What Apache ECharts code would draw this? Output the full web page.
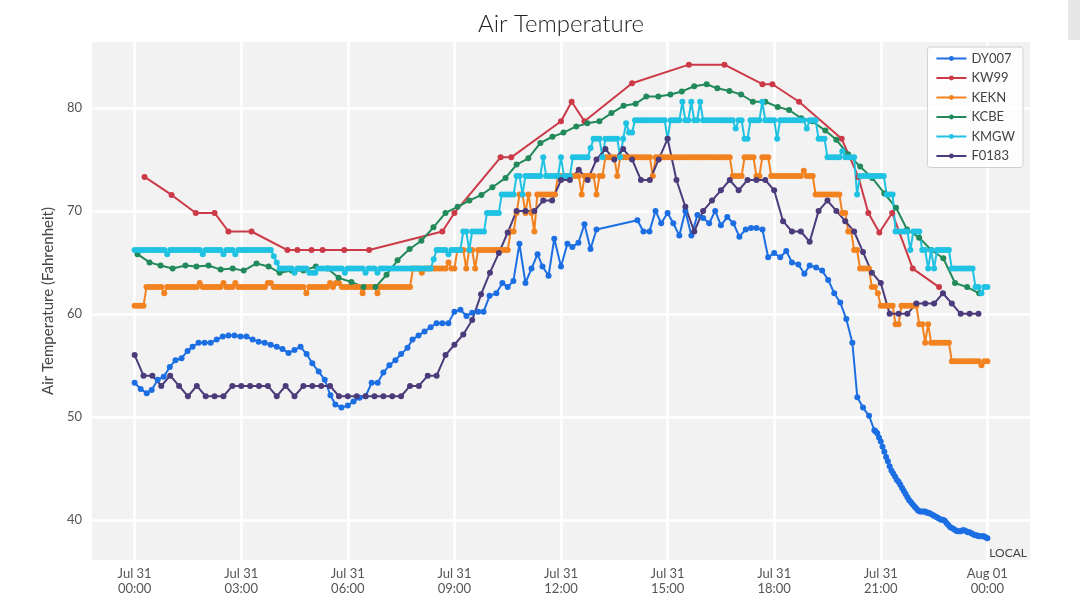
<!DOCTYPE html>
<html>
<head>
<meta charset="utf-8">
<title>Air Temperature</title>
<script src="https://cdn.jsdelivr.net/npm/echarts@6/dist/echarts.min.js"></script>
<style>
html, body { margin: 0; padding: 0; background: #fff; }
#chart { width: 1080px; height: 608px; }
</style>
</head>
<body>
<div id="chart"></div>
<script>
// stations, in legend order
const stations = ['DY007', 'KW99', 'KEKN', 'KCBE', 'KMGW', 'F0183']
const colors = ['#1c6ee3', '#cc3a48', '#f2821f', '#21895a', '#1fc2e2', '#4b3b7a']

// x axis is hours since Jul 31 00:00
const xTicks = [0, 3, 6, 9, 12, 15, 18, 21, 24]
const xTickLabels = ['Jul 31\n00:00', 'Jul 31\n03:00', 'Jul 31\n06:00', 'Jul 31\n09:00',
    'Jul 31\n12:00', 'Jul 31\n15:00', 'Jul 31\n18:00', 'Jul 31\n21:00', 'Aug 01\n00:00']
const yTicks = [40, 50, 60, 70, 80]

// DY007: [hour, F]
const dy007 = [
    [0.00, 53.3], [0.17, 52.7], [0.34, 52.3], [0.48, 52.6], [0.65, 53.6], [0.82, 53.9],
    [0.99, 54.85], [1.15, 55.5], [1.32, 55.7], [1.49, 56.4], [1.63, 56.8], [1.80, 57.2],
    [1.97, 57.2], [2.14, 57.2], [2.31, 57.5], [2.48, 57.8], [2.64, 57.9], [2.81, 57.9],
    [2.98, 57.8], [3.15, 57.8], [3.32, 57.5], [3.49, 57.3], [3.66, 57.2], [3.83, 57.0],
    [4.00, 56.8], [4.16, 56.6], [4.33, 56.2], [4.50, 56.5], [4.67, 56.8], [4.84, 56.1],
    [5.00, 55.2], [5.18, 54.4], [5.35, 53.6], [5.51, 52.1], [5.65, 51.2], [5.82, 50.9],
    [6.00, 51.1], [6.16, 51.5], [6.33, 51.85], [6.50, 52.0], [6.67, 53.3], [6.84, 53.3],
    [7.00, 54.3], [7.17, 55.0], [7.34, 55.5], [7.50, 56.1], [7.68, 56.7], [7.82, 57.5],
    [7.99, 57.9], [8.16, 58.3], [8.33, 58.7], [8.50, 59.1], [8.66, 59.1], [8.83, 59.1],
    [9.00, 60.2], [9.17, 60.4], [9.34, 59.8], [9.50, 60.1], [9.67, 60.2], [9.82, 60.2],
    [9.99, 61.75], [10.18, 62.0], [10.35, 63.0], [10.50, 62.6], [10.66, 63.2], [10.83, 66.8],
    [11.00, 63.0], [11.17, 64.4], [11.34, 65.8], [11.48, 64.6], [11.65, 63.7], [11.81, 67.3],
    [12.00, 64.6], [12.18, 66.8], [12.32, 66.5], [12.49, 66.9], [12.66, 68.7], [12.83, 66.3],
    [13.00, 68.2], [14.15, 69.1], [14.32, 68.0], [14.49, 68.0], [14.66, 70.0], [14.82, 68.8],
    [15.00, 69.8], [15.16, 68.8], [15.33, 67.6], [15.50, 70.0], [15.67, 67.6], [15.84, 69.6],
    [16.00, 69.3], [16.17, 68.8], [16.34, 70.0], [16.50, 68.6], [16.68, 69.4], [16.85, 68.8],
    [17.02, 67.5], [17.20, 68.2], [17.35, 68.35], [17.50, 68.35], [17.67, 68.2], [17.83, 65.5],
    [18.00, 65.9], [18.17, 65.5], [18.34, 66.1], [18.50, 65.0], [18.68, 64.8], [18.85, 63.9],
    [19.00, 64.7], [19.18, 64.5], [19.35, 64.2], [19.52, 63.3], [19.69, 62.0], [19.86, 61.1],
    [20.03, 59.5], [20.20, 57.2], [20.34, 51.9], [20.50, 50.9], [20.67, 50.1], [20.82, 48.7],
    [20.85, 48.6], [20.90, 48.4], [20.95, 48.0], [21.00, 47.6], [21.05, 47.1], [21.10, 46.6],
    [21.15, 46.1], [21.20, 45.7], [21.25, 45.2], [21.30, 44.8], [21.35, 44.5], [21.40, 44.2],
    [21.45, 43.9], [21.50, 43.7], [21.55, 43.4], [21.60, 43.1], [21.65, 42.8], [21.70, 42.5],
    [21.75, 42.2], [21.80, 41.9], [21.85, 41.7], [21.90, 41.5], [21.95, 41.3], [22.00, 41.1],
    [22.05, 40.9], [22.10, 40.8], [22.15, 40.8], [22.20, 40.8], [22.25, 40.8], [22.30, 40.7],
    [22.35, 40.7], [22.40, 40.6], [22.45, 40.5], [22.50, 40.4], [22.55, 40.3], [22.60, 40.2],
    [22.65, 40.1], [22.70, 40.0], [22.75, 40.0], [22.80, 39.9], [22.85, 39.7], [22.90, 39.5],
    [22.95, 39.3], [23.00, 39.2], [23.05, 39.1], [23.10, 39.0], [23.15, 38.9], [23.20, 38.9],
    [23.25, 38.9], [23.30, 39.0], [23.35, 39.0], [23.40, 38.9], [23.45, 38.8], [23.50, 38.8],
    [23.55, 38.7], [23.60, 38.6], [23.65, 38.5], [23.70, 38.5], [23.75, 38.4], [23.80, 38.4],
    [23.85, 38.4], [23.90, 38.4], [23.95, 38.3], [24.00, 38.2]
]

// KW99: [hour, F]
const kw99 = [
    [0.28, 73.3], [1.04, 71.55], [1.72, 69.8], [2.25, 69.8], [2.64, 68.0], [3.29, 68.0],
    [4.30, 66.2], [4.58, 66.2], [4.98, 66.2], [5.29, 66.2], [5.90, 66.2], [6.60, 66.2],
    [8.66, 68.0], [9.00, 69.8], [10.30, 75.2], [10.60, 75.2], [12.00, 78.7], [12.30, 80.6],
    [12.66, 78.7], [14.00, 82.4], [15.60, 84.2], [16.60, 84.2], [17.67, 82.3], [17.95, 82.3],
    [18.70, 80.6], [19.90, 77.0], [20.37, 73.3], [20.65, 69.8], [20.96, 67.9], [21.32, 69.8],
    [21.90, 64.4], [22.64, 62.6]
]

// KCBE: [hour, F]
const kcbe = [
    [0.08, 65.8], [0.42, 65.0], [0.73, 64.7], [1.07, 64.4], [1.43, 64.7], [1.74, 64.6],
    [2.08, 64.7], [2.42, 64.3], [2.76, 64.4], [3.07, 64.2], [3.43, 64.9], [3.77, 64.6],
    [4.08, 64.0], [4.42, 64.2], [4.75, 64.2], [5.10, 64.6], [5.43, 64.4], [5.74, 63.5],
    [6.10, 63.1], [6.44, 62.6], [6.78, 62.6], [7.09, 63.8], [7.40, 65.2], [7.74, 66.3],
    [8.07, 67.1], [8.41, 68.4], [8.75, 69.8], [9.09, 70.4], [9.42, 71.0], [9.76, 71.55],
    [10.07, 72.3], [10.44, 73.2], [10.75, 74.5], [11.08, 75.1], [11.42, 76.6], [11.76, 77.2],
    [12.07, 77.6], [12.43, 78.2], [12.74, 78.5], [13.08, 78.7], [13.42, 79.5], [13.76, 80.2],
    [14.10, 80.4], [14.40, 81.1], [14.74, 81.1], [15.08, 81.3], [15.40, 81.6], [15.75, 82.1],
    [16.10, 82.3], [16.40, 81.9], [16.74, 81.65], [17.07, 81.3], [17.40, 80.6], [17.75, 80.6],
    [18.10, 80.1], [18.42, 79.8], [18.76, 79.0], [19.07, 78.7], [19.44, 77.8], [19.75, 76.9],
    [20.08, 75.5], [20.42, 74.3], [20.76, 73.2], [21.10, 71.7], [21.43, 70.3], [21.74, 68.2],
    [22.08, 67.4], [22.42, 66.2], [22.76, 65.4], [23.09, 63.0], [23.43, 62.6], [23.77, 62.0]
]

// KEKN: five-minute readings from 00:00, one row per hour
const kekn5min = [
    60.8, 60.8, 60.8, 60.8, 62.6, 62.6, 62.6, 62.6, 62.6, 62.6, 62.0, 62.6,
    62.6, 62.6, 62.6, 62.6, 62.6, 62.6, 62.6, 62.6, 62.6, 62.6, 63.0, 62.6,
    62.6, 62.6, 62.6, 62.6, 62.6, 62.6, 63.0, 62.6, 62.6, 62.6, 63.0, 62.6,
    62.6, 62.6, 62.6, 62.6, 62.6, 62.6, 62.6, 62.6, 62.6, 63.0, 63.0, 62.6,
    62.6, 62.6, 62.6, 62.6, 62.6, 62.6, 62.6, 62.6, 62.6, 62.6, 62.0, 62.6,
    62.6, 62.6, 62.6, 62.6, 62.6, 62.6, 63.0, 62.6, 63.0, 63.0, 62.6, 62.6,
    62.6, 62.6, 62.6, 62.6, 62.6, 62.0, 62.6, 62.6, 62.6, 62.6, 62.0, 62.6,
    62.6, 62.6, 62.6, 62.6, 62.6, 62.6, 62.6, 62.6, 62.6, 62.6, 64.4, 64.4,
    64.4, 64.0, 64.4, 64.4, 64.4, 64.4, 64.4, 64.4, 64.4, 64.4, 65.0, 64.4,
    64.4, 66.2, 66.2, 66.2, 64.4, 66.2, 66.2, 64.4, 66.2, 66.2, 66.2, 66.2,
    66.2, 66.2, 66.2, 66.2, 66.2, 66.2, 66.2, 68.0, 68.0, 69.8, 71.6, 71.6,
    69.8, 71.6, 69.8, 68.0, 71.6, 71.6, 71.6, 71.6, 71.6, 71.6, 71.6, 73.4,
    73.4, 73.4, 73.4, 73.4, 73.4, 73.4, 73.4, 71.6, 73.4, 73.4, 73.4, 73.4,
    71.6, 73.4, 73.4, 75.2, 75.2, 75.2, 75.2, 73.4, 75.2, 75.2, 75.2, 75.2,
    75.2, 75.2, 75.2, 75.2, 75.2, 75.2, 75.2, 73.4, 75.2, 75.2, 75.2, 75.2,
    75.2, 75.2, 75.2, 75.2, 75.2, 75.2, 75.2, 75.2, 75.2, 75.2, 75.2, 75.2,
    75.2, 75.2, 75.2, 75.2, 75.2, 75.2, 75.2, 75.2, 75.2, 75.2, 73.4, 73.4,
    73.4, 73.4, 75.2, 75.2, 75.2, 75.2, 73.4, 73.4, 75.2, 75.2, 75.2, 73.4,
    73.4, 73.4, 73.4, 73.4, 73.4, 73.4, 73.4, 73.4, 73.4, 73.4, 73.9, 73.4,
    73.4, 73.4, 71.6, 71.6, 71.6, 71.6, 71.6, 71.6, 71.6, 71.6, 71.6, 69.8,
    69.8, 68.0, 68.0, 66.2, 66.2, 64.4, 64.4, 64.4, 64.4, 62.6, 62.6, 62.0,
    60.8, 60.8, 60.8, 60.8, 60.8, 59.0, 59.0, 60.8, 60.8, 60.8, 60.8, 60.8,
    60.8, 59.0, 59.0, 57.2, 59.0, 57.2, 57.2, 57.2, 57.2, 57.2, 57.2, 57.2,
    55.4, 55.4, 55.4, 55.4, 55.4, 55.4, 55.4, 55.4, 55.4, 55.4, 55.0, 55.4,
    55.4
]

// KMGW: five-minute readings from 00:00, one row per hour
const kmgw5min = [
    66.2, 66.2, 66.2, 66.2, 66.2, 66.2, 66.2, 66.2, 66.2, 66.2, 66.2, 65.8,
    66.2, 66.2, 66.2, 66.2, 66.2, 66.2, 66.2, 66.2, 66.2, 66.2, 66.2, 65.8,
    66.2, 66.2, 66.2, 66.2, 66.2, 66.2, 65.8, 66.2, 66.2, 66.2, 65.8, 66.2,
    66.2, 66.2, 66.2, 66.2, 66.2, 66.2, 66.2, 66.2, 66.2, 66.2, 66.2, 65.6,
    65.0, 64.4, 64.4, 64.4, 64.4, 64.4, 64.0, 64.4, 64.4, 64.4, 64.4, 64.0,
    64.0, 64.0, 64.4, 64.4, 64.4, 64.4, 64.4, 64.4, 64.4, 64.4, 64.4, 64.0,
    64.4, 64.4, 64.4, 64.4, 64.4, 64.4, 64.0, 64.4, 64.4, 64.4, 64.0, 64.4,
    64.4, 64.4, 64.4, 64.4, 64.4, 64.4, 64.4, 64.4, 64.4, 64.4, 64.4, 64.4,
    64.4, 64.4, 64.4, 64.4, 64.4, 65.3, 66.2, 66.2, 66.2, 66.2, 65.8, 66.2,
    66.2, 66.2, 66.2, 68.0, 68.0, 66.2, 68.0, 68.0, 68.0, 68.0, 68.0, 69.8,
    69.8, 69.8, 69.8, 69.8, 71.6, 71.6, 71.6, 71.6, 71.6, 73.4, 73.4, 71.6,
    73.4, 73.4, 73.4, 73.4, 73.4, 73.4, 75.2, 73.4, 73.4, 73.4, 73.4, 73.4,
    75.2, 73.4, 73.4, 73.4, 75.2, 75.2, 75.2, 75.2, 75.2, 75.2, 76.1, 77.0,
    77.0, 77.0, 75.2, 77.0, 77.0, 77.0, 77.0, 77.0, 75.2, 77.0, 78.5, 77.6,
    77.6, 78.8, 78.8, 78.8, 78.8, 78.8, 78.8, 78.8, 78.8, 78.8, 78.8, 78.8,
    77.0, 78.8, 78.8, 78.8, 78.8, 80.6, 78.8, 78.8, 80.6, 78.8, 78.8, 80.6,
    78.8, 78.8, 78.8, 78.8, 78.8, 78.8, 78.8, 78.8, 78.8, 78.8, 78.8, 78.0,
    78.8, 78.8, 77.0, 77.0, 78.8, 78.8, 78.8, 78.8, 80.6, 78.8, 78.8, 78.8,
    78.8, 77.0, 78.8, 78.8, 78.8, 78.8, 78.8, 78.8, 78.8, 78.8, 78.8, 78.0,
    78.8, 78.8, 78.8, 77.0, 77.0, 77.0, 75.2, 75.2, 75.2, 75.2, 75.2, 75.8,
    75.2, 75.2, 75.2, 75.2, 71.6, 73.4, 73.4, 73.4, 73.4, 73.4, 73.4, 73.4,
    73.4, 73.4, 71.6, 71.6, 71.6, 68.0, 68.0, 68.0, 68.0, 68.0, 66.2, 68.0,
    68.0, 68.0, 66.2, 66.2, 64.4, 66.2, 64.4, 66.2, 66.2, 66.2, 66.2, 66.2,
    64.4, 64.4, 64.4, 64.4, 64.4, 64.4, 64.4, 64.4, 62.6, 62.6, 62.0, 62.6,
    62.6
]

// F0183: quarter-hour readings from 00:00, one row per hour
const f0183q = [
    56.0, 54.0, 54.0, 53.0,
    54.0, 53.0, 52.0, 53.0,
    52.0, 52.0, 52.0, 53.0,
    53.0, 53.0, 53.0, 53.0,
    52.0, 53.0, 52.0, 53.0,
    53.0, 53.0, 53.0, 52.0,
    52.0, 52.0, 52.0, 52.0,
    52.0, 52.0, 52.0, 53.0,
    53.0, 54.0, 54.0, 56.0,
    57.0, 58.0, 59.4, 61.9,
    64.0, 65.9, 67.9, 70.0,
    70.0, 70.0, 71.0, 71.0,
    73.0, 73.0, 74.0, 73.0,
    75.0, 76.0, 75.0, 76.0,
    75.0, 73.0, 73.0, 75.0,
    77.0, 73.0, 70.4, 68.0,
    70.0, 71.0, 72.0, 73.0,
    72.0, 73.0, 73.0, 73.0,
    72.0, 69.0, 68.0, 68.0,
    67.0, 70.0, 71.0, 70.0,
    69.0, 68.0, 66.0, 64.0,
    63.0, 60.0, 60.0, 60.0,
    61.0, 61.0, 61.0, 62.0,
    61.0, 60.0, 60.0, 60.0
]

// regular readings -> [hour, F]
function onClock(values, stepHours) {
    return values.map((v, i) => [i * stepHours, v])
}

const seriesData = [dy007, kw99, onClock(kekn5min, 1 / 12), kcbe, onClock(kmgw5min, 1 / 12), onClock(f0183q, 0.25)]

const font = 'Lato, "Noto Sans", sans-serif'
let myChart = echarts.init(document.getElementById('chart'))

myChart.setOption({
    animation: false,
    color: colors,
    textStyle: { fontFamily: font },
    grid: {
        left: 92, right: 50, top: 42, bottom: 48,
        show: true, backgroundColor: '#f2f2f2', borderWidth: 0
    },
    legend: {
        data: stations,
        orient: 'vertical',
        right: 57, top: 47,
        padding: [5, 8, 5, 8],
        itemWidth: 30, itemHeight: 6, itemGap: 6.5,
        backgroundColor: 'rgba(255,255,255,0.85)',
        borderColor: '#cfcfcf', borderWidth: 1, borderRadius: 3,
        textStyle: { color: '#444', fontSize: 13, fontFamily: font }
    },
    xAxis: {
        type: 'value',
        min: -1.2, max: 25.2,
        axisLine: { show: false },
        axisTick: { show: false, customValues: xTicks },
        axisLabel: {
            customValues: xTicks,
            margin: 6,
            color: '#555', fontSize: 13, lineHeight: 15,
            formatter: v => xTickLabels[xTicks.indexOf(v)]
        },
        splitLine: { show: true, lineStyle: { color: '#ffffff', width: 2.5 } }
    },
    yAxis: {
        type: 'value',
        min: 36.1, max: 86.4,
        name: 'Air Temperature (Fahrenheit)',
        nameLocation: 'middle', nameGap: 35,
        nameTextStyle: { color: '#444', fontSize: 15, fontFamily: font },
        axisLine: { show: false },
        axisTick: { show: false, customValues: yTicks },
        axisLabel: { customValues: yTicks, margin: 10, color: '#555', fontSize: 13 },
        splitLine: { show: true, lineStyle: { color: '#ffffff', width: 2.5 } }
    },
    graphic: [
        {
            type: 'text',
            style: { text: 'Air Temperature', x: 561, y: 24, textAlign: 'center', textVerticalAlign: 'middle',
                font: '300 24px ' + font, fill: '#222' }
        },
        {
            type: 'text',
            style: { text: 'LOCAL', x: 1027, y: 553, textAlign: 'right', textVerticalAlign: 'middle',
                font: '12px ' + font, fill: '#444' }
        },
        { type: 'rect', shape: { x: 1068, y: 0, width: 12, height: 40 }, style: { fill: '#e6e6e6' } }
    ],
    series: stations.map((name, i) => ({
        name: name,
        type: 'line',
        data: seriesData[i],
        symbol: 'circle',
        symbolSize: 6,
        lineStyle: { width: 2 },
        emphasis: { disabled: true }
    }))
})
</script>
</body>
</html>
